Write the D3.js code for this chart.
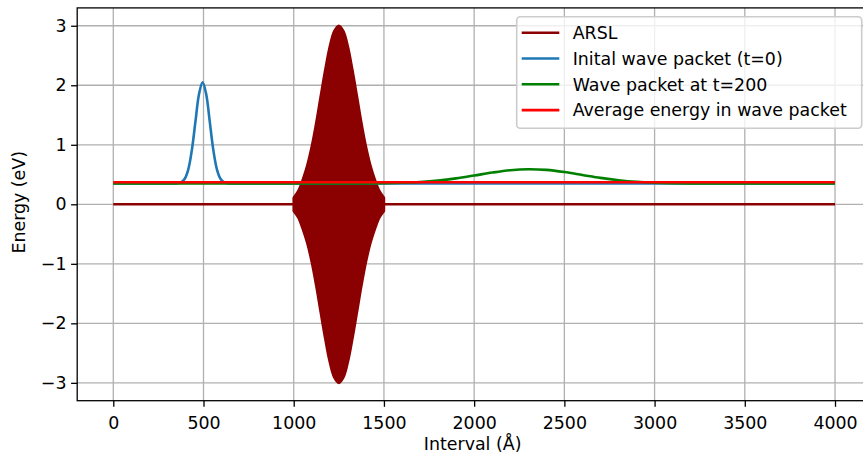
<!DOCTYPE html>
<html><head><meta charset="utf-8">
<script src="https://cdn.jsdelivr.net/npm/d3@7"></script>
<style>body{margin:0;background:#fff}svg{display:block;font-family:"DejaVu Sans",sans-serif}</style>
</head><body><svg id="c" width="863" height="457"></svg>
<script>
// ---- data ----
const xTicks = [0, 500, 1000, 1500, 2000, 2500, 3000, 3500, 4000];
const yTicks = [-3, -2, -1, 0, 1, 2, 3];
const seriesNames = ["ARSL", "Inital wave packet (t=0)", "Wave packet at t=200", "Average energy in wave packet"];
const seriesColors = ["#8b0000", "#1f77b4", "#008000", "#ff0000"];
// ARSL: zero outside the barrier, dense oscillation inside (envelope amplitude)
const arslBaseX = [0, 1000, 1500, 4000];
const arslEnvX = [1000, 1025, 1050, 1075, 1100, 1125, 1150, 1175, 1200, 1225, 1250, 1275, 1300, 1325, 1350, 1375, 1400, 1425, 1450, 1475, 1500];
const arslEnvA = [0.11, 0.22, 0.41, 0.65, 0.97, 1.37, 1.82, 2.26, 2.65, 2.91, 3.0, 2.91, 2.65, 2.26, 1.82, 1.37, 0.97, 0.65, 0.41, 0.22, 0.11];
// Initial wave packet
const blueX = [0, 295, 315, 335, 355, 375, 395, 415, 435, 455, 475, 495, 515, 535, 555, 575, 595, 615, 635, 655, 675, 695, 4000];
const blueY = [0.35, 0.35, 0.35, 0.3506, 0.354, 0.369, 0.425, 0.58, 0.902, 1.381, 1.85, 2.05, 1.85, 1.381, 0.902, 0.58, 0.425, 0.369, 0.354, 0.3506, 0.35, 0.35, 0.35];
// Wave packet at t=200
const greenX = [0, 1300, 1400, 1500, 1600, 1700, 1800, 1900, 2000, 2100, 2200, 2300, 2400, 2500, 2600, 2700, 2800, 2900, 3000, 3100, 3200, 3300, 4000];
const greenY = [0.35, 0.3505, 0.3515, 0.354, 0.361, 0.374, 0.398, 0.435, 0.483, 0.533, 0.573, 0.59, 0.578, 0.542, 0.493, 0.444, 0.405, 0.378, 0.363, 0.355, 0.352, 0.35, 0.35];
// Average energy
const avgX = [0, 4000];
const avgY = [0.37, 0.37];

// ---- layout ----
const FS = 17.4, LW = 2.6, GW = 1.3;
const svg = d3.select("#c");
const L = 77.2, R = 871.1, T = 7.9, B = 400.7;
const x = d3.scaleLinear().domain([-200, 4200]).range([L, R]);
const y = d3.scaleLinear().domain([-3.3, 3.3]).range([B, T]);

svg.append("defs").append("clipPath").attr("id", "clip")
  .append("rect").attr("x", L).attr("y", T).attr("width", R - L).attr("height", B - T);

// grid
const grid = svg.append("g");
xTicks.forEach(t => grid.append("line").attr("x1", x(t)).attr("x2", x(t)).attr("y1", T).attr("y2", B)
  .attr("stroke", "#b0b0b0").attr("stroke-width", GW));
yTicks.forEach(t => grid.append("line").attr("x1", L).attr("x2", R).attr("y1", y(t)).attr("y2", y(t))
  .attr("stroke", "#b0b0b0").attr("stroke-width", GW));

const plot = svg.append("g").attr("clip-path", "url(#clip)");
const line = d3.line().x(d => x(d[0])).y(d => y(d[1]));
const smooth = d3.line().x(d => x(d[0])).y(d => y(d[1])).curve(d3.curveCatmullRom);

// ARSL
plot.append("path").datum(arslBaseX.map(v => [v, 0])).attr("d", line)
  .attr("fill", "none").attr("stroke", seriesColors[0]).attr("stroke-width", LW);
const area = d3.area().x((d, i) => x(arslEnvX[i])).y0(d => y(-d)).y1(d => y(d)).curve(d3.curveCatmullRom);
plot.append("path").datum(arslEnvA).attr("d", area)
  .attr("fill", seriesColors[0]).attr("stroke", seriesColors[0]).attr("stroke-width", LW).attr("stroke-linejoin", "round");

// wave packets
plot.append("path").datum(blueX.map((v, i) => [v, blueY[i]])).attr("d", smooth)
  .attr("fill", "none").attr("stroke", seriesColors[1]).attr("stroke-width", LW);
plot.append("path").datum(greenX.map((v, i) => [v, greenY[i]])).attr("d", smooth)
  .attr("fill", "none").attr("stroke", seriesColors[2]).attr("stroke-width", LW);
plot.append("path").datum(avgX.map((v, i) => [v, avgY[i]])).attr("d", line)
  .attr("fill", "none").attr("stroke", seriesColors[3]).attr("stroke-width", LW);

// axes
const xAxis = d3.axisBottom(x).tickValues(xTicks).tickSize(6.1).tickPadding(9.6).tickFormat(d3.format("d"));
const yAxis = d3.axisLeft(y).tickValues(yTicks).tickSize(6.1).tickPadding(4.6).tickFormat(d => d < 0 ? "\u2212" + Math.abs(d) : d);
const gx = svg.append("g").attr("transform", `translate(0,${B})`).call(xAxis);
const gy = svg.append("g").attr("transform", `translate(${L},0)`).call(yAxis);
[gx, gy].forEach(g => {
  g.selectAll("text").attr("font-size", FS).attr("fill", "#000").attr("font-family", "DejaVu Sans");
  g.selectAll("line").attr("stroke", "#000").attr("stroke-width", GW);
  g.select(".domain").remove();
});
// spines
svg.append("rect").attr("x", L).attr("y", T).attr("width", R - L).attr("height", B - T)
  .attr("fill", "none").attr("stroke", "#000").attr("stroke-width", GW);

// axis labels
svg.append("text").attr("x", (L + R) / 2 - 1.5).attr("y", 449.5).attr("text-anchor", "middle")
  .attr("font-size", FS).text("Interval (Å)");
svg.append("text").attr("transform", `translate(25,${(T + B) / 2 - 2}) rotate(-90)`).attr("text-anchor", "middle")
  .attr("font-size", FS).text("Energy (eV)");

// legend
const lg = svg.append("g");
lg.append("rect").attr("x", 516.7).attr("y", 16.7).attr("width", 345).attr("height", 111.6).attr("rx", 3.5)
  .attr("fill", "#fff").attr("fill-opacity", 0.8).attr("stroke", "#cccccc").attr("stroke-width", 1.6);
seriesNames.forEach((n, i) => {
  const cy = 32.7 + i * 25.8;
  lg.append("line").attr("x1", 521.7).attr("x2", 559.3).attr("y1", cy).attr("y2", cy)
    .attr("stroke", seriesColors[i]).attr("stroke-width", LW);
  lg.append("text").attr("x", 572.7).attr("y", cy).attr("dy", "0.36em").attr("font-size", FS)
    .attr("fill", "#000").text(n);
});
</script></body></html>
